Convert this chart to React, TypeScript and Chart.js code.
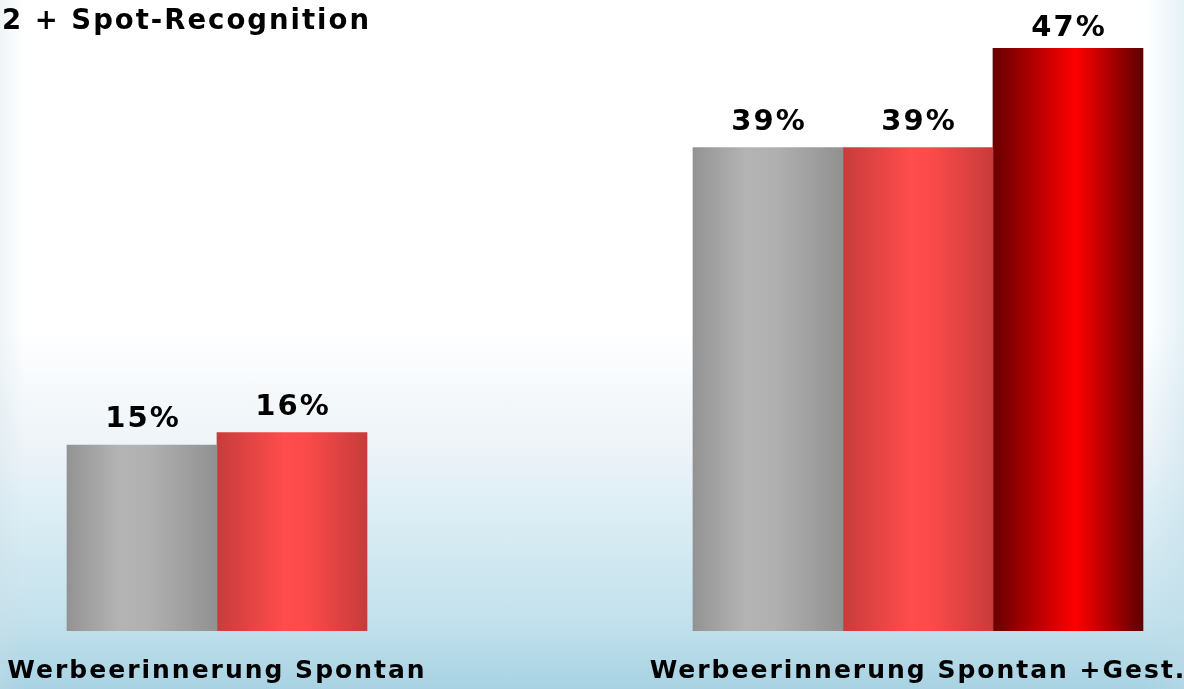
import { useEffect, useRef } from 'react';
import { Chart, registerables } from 'chart.js';

Chart.register(...registerables);

const titleText = '2 + Spot-Recognition';
const categories = ['Werbeerinnerung Spontan', 'Werbeerinnerung Spontan +Gest.'];
const categoryPositions = [0, 1];
const seriesGrey: (number | null)[] = [15, 39];
const seriesRed: (number | null)[] = [16, 39];
const seriesDarkRed: (number | null)[] = [null, 47];

const greyStops: [number, string][] = [[0, '#939393'], [0.35, '#b4b4b4'], [0.55, '#b0b0b0'], [1, '#919191']];
const redStops: [number, string][] = [[0, '#c83c3c'], [0.45, '#ff4c4c'], [0.6, '#fa4a4a'], [1, '#c83b3b']];
const darkRedStops: [number, string][] = [[0, '#680000'], [0.55, '#ff0000'], [1, '#5e0000']];

const FONT = '"DejaVu Sans", Verdana, sans-serif';

const toPoints = (vals: (number | null)[]) => vals.map((v, i) => ({ x: categoryPositions[i], y: v }));

const gradientPlugin = {
  id: 'barGradients',
  beforeDraw(chart: any) {
    chart.ctx.letterSpacing = '2px';
  },
  beforeDatasetsDraw(chart: any) {
    const ctx = chart.ctx;
    chart.data.datasets.forEach((ds: any, di: number) => {
      const meta = chart.getDatasetMeta(di);
      meta.data.forEach((el: any) => {
        const { x, width } = el.getProps(['x', 'width'], true);
        if (!isFinite(x) || !isFinite(width)) return;
        const g = ctx.createLinearGradient(x - width / 2, 0, x + width / 2, 0);
        (ds.stops as [number, string][]).forEach(([o, c]) => g.addColorStop(o, c));
        el.options = Object.assign({}, el.options, { backgroundColor: g });
      });
    });
  },
  afterDatasetsDraw(chart: any) {
    const ctx = chart.ctx;
    ctx.save();
    ctx.letterSpacing = '2px';
    ctx.font = `bold 29px ${FONT}`;
    ctx.fillStyle = '#000';
    ctx.textAlign = 'center';
    ctx.textBaseline = 'alphabetic';
    chart.data.datasets.forEach((ds: any, di: number) => {
      const meta = chart.getDatasetMeta(di);
      meta.data.forEach((el: any, i: number) => {
        const v = ds.data[i].y;
        if (v === null || v === undefined) return;
        const y = Math.max(el.y - 18, chart.chartArea.top);
        ctx.fillText(`${v}%`, el.x + 1, y);
      });
    });
    ctx.restore();
  },
};

export default function App() {
  const canvasRef = useRef<HTMLCanvasElement | null>(null);

  useEffect(() => {
    document.body.style.margin = '0';
    document.body.style.overflow = 'hidden';
    const canvas = canvasRef.current;
    if (!canvas) return;
    const chart = new Chart(canvas, {
      type: 'bar',
      data: {
        datasets: [
          { label: 'A', data: toPoints(seriesGrey), backgroundColor: '#a5a5a5', stops: greyStops } as any,
          { label: 'B', data: toPoints(seriesRed), backgroundColor: '#f04646', stops: redStops } as any,
          { label: 'C', data: toPoints(seriesDarkRed), backgroundColor: '#c00000', stops: darkRedStops } as any,
        ],
      },
      options: {
        animation: false,
        responsive: true,
        maintainAspectRatio: false,
        skipNull: true,
        barThickness: 150,
        layout: { padding: { left: 2, right: 0, top: 0, bottom: 0 } },
        plugins: {
          legend: { display: false },
          tooltip: { enabled: false },
          title: {
            display: true,
            text: titleText,
            align: 'start',
            color: '#000',
            font: { family: FONT, size: 27.5, weight: 'bold', lineHeight: 1 },
            padding: { top: 8.5, bottom: 0 },
          },
        },
        scales: {
          x: {
            type: 'linear',
            offset: false,
            min: -0.3067,
            max: 1.3795,
            grid: { display: false, drawTicks: false, offset: false },
            border: { display: false },
            afterBuildTicks: (scale: any) => {
              scale.ticks = categoryPositions.map((v) => ({ value: v }));
            },
            ticks: {
              autoSkip: false,
              maxRotation: 0,
              minRotation: 0,
              padding: 25,
              color: '#000',
              font: { family: FONT, size: 25, weight: 'bold', lineHeight: 1.2 },
              callback: (v: any) => {
                const idx = categoryPositions.indexOf(Number(v));
                return idx >= 0 ? categories[idx] : '';
              },
            },
          },
          y: {
            display: false,
            min: 0,
            max: 48,
          },
        },
      } as any,
      plugins: [gradientPlugin],
    });
    return () => chart.destroy();
  }, []);

  return (
    <div
      style={{
        position: 'fixed',
        left: 0,
        top: 0,
        width: 1184,
        height: 689,
        overflow: 'hidden',
        background:
          'linear-gradient(to right, rgba(205,222,230,0.3) 0px, rgba(255,255,255,0) 25px, rgba(255,255,255,0) 1145px, rgba(190,220,232,0.4) 1184px), linear-gradient(to bottom, #ffffff 0%, #ffffff 48%, #fcfdfe 51%, #f4f8fb 58%, #ebf2f7 67%, #e0eff6 72%, #d2e8f1 81%, #c3e1ec 90%, #b8dbe8 94%, #a8d2e3 100%)',
      }}
    >
      <div style={{ position: 'relative', width: 1184, height: 711 }}>
        <canvas ref={canvasRef} />
      </div>
    </div>
  );
}
